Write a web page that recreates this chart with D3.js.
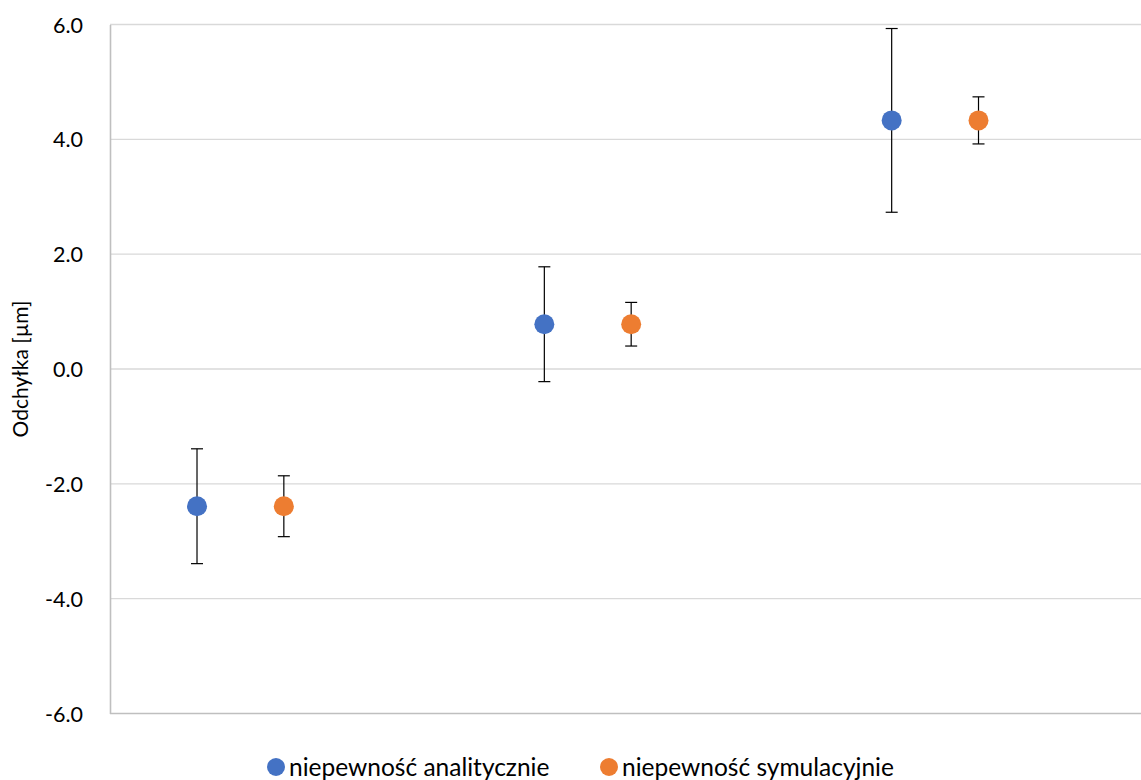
<!DOCTYPE html>
<html>
<head>
<meta charset="utf-8">
<script src="https://cdn.jsdelivr.net/npm/d3@7"></script>
<style>
  html, body { margin: 0; padding: 0; background: #fff; }
  svg { display: block; }
  text { font-family: Lato, "Open Sans", sans-serif; fill: #000; }
</style>
</head>
<body>
<svg id="chart" width="1141" height="780"></svg>
<script>
// Measurement groups (no x-axis labels are shown)
const groups = ["A", "B", "C"];
const seriesNames = ["niepewność analitycznie", "niepewność symulacyjnie"];
const seriesColors = ["#4472C4", "#ED7D31"];

// Deviation values [µm] per group, one array per series
const analyticValues = [-2.39, 0.78, 4.33];
const analyticErrors = [1.00, 1.00, 1.60];
const simulationValues = [-2.39, 0.78, 4.33];
const simulationErrors = [0.53, 0.38, 0.41];

const yTicks = [-6, -4, -2, 0, 2, 4, 6];
const yTitle = "Odchyłka [µm]";

const svg = d3.select("#chart");
const margin = { top: 24.5, right: 0, bottom: 66.5, left: 110 };
const W = 1141, H = 780;
const innerW = W - margin.left - margin.right;
const innerH = H - margin.top - margin.bottom;

const g = svg.append("g").attr("transform", `translate(${margin.left},${margin.top})`);

const y = d3.scaleLinear().domain([-6, 6]).range([innerH, 0]);
// category bands run slightly past the visible plot edge
const x = d3.scaleBand().domain(groups).range([0, 1042]).padding(0);
const xs = d3.scalePoint().domain(seriesNames).range([0, x.bandwidth()]).padding(1.5).align(0.334);

const fmt = v => d3.format(".1f")(v).replace("\u2212", "-");

// gridlines
g.append("g")
  .selectAll("line")
  .data(yTicks.filter(t => t !== -6))
  .join("line")
  .attr("x1", 0).attr("x2", innerW)
  .attr("y1", d => y(d)).attr("y2", d => y(d))
  .attr("stroke", "#D9D9D9").attr("stroke-width", 1.4);

// y axis
const yAxis = d3.axisLeft(y).tickValues(yTicks).tickFormat(fmt).tickSize(0).tickPadding(27);
const ya = g.append("g").call(yAxis);
ya.select(".domain").attr("stroke", "#BFBFBF").attr("stroke-width", 1.6);
ya.selectAll("text").style("font-size", "21.5px").attr("dy", "0.35em").style("font-family", "Lato, sans-serif");

// bottom axis line
g.append("line")
  .attr("x1", 0).attr("x2", innerW)
  .attr("y1", innerH).attr("y2", innerH)
  .attr("stroke", "#BFBFBF").attr("stroke-width", 1.6);

// y title
svg.append("text")
  .attr("transform", `translate(28,${margin.top + y(0)}) rotate(-90)`)
  .attr("text-anchor", "middle")
  .style("font-size", "21px")
  .text(yTitle);

const series = [
  { name: seriesNames[0], color: seriesColors[0], values: analyticValues, errors: analyticErrors },
  { name: seriesNames[1], color: seriesColors[1], values: simulationValues, errors: simulationErrors }
];

series.forEach(s => {
  const pts = groups.map((grp, i) => ({
    cx: x(grp) + xs(s.name),
    v: s.values[i],
    e: s.errors[i]
  }));
  const sg = g.append("g");
  const capW = 6;
  // error bars
  sg.selectAll("line.err").data(pts).join("line").attr("class", "err")
    .attr("x1", d => d.cx).attr("x2", d => d.cx)
    .attr("y1", d => y(d.v + d.e)).attr("y2", d => y(d.v - d.e))
    .attr("stroke", "#000").attr("stroke-width", 1.2);
  sg.selectAll("line.capT").data(pts).join("line").attr("class", "capT")
    .attr("x1", d => d.cx - capW).attr("x2", d => d.cx + capW)
    .attr("y1", d => y(d.v + d.e)).attr("y2", d => y(d.v + d.e))
    .attr("stroke", "#000").attr("stroke-width", 1.2);
  sg.selectAll("line.capB").data(pts).join("line").attr("class", "capB")
    .attr("x1", d => d.cx - capW).attr("x2", d => d.cx + capW)
    .attr("y1", d => y(d.v - d.e)).attr("y2", d => y(d.v - d.e))
    .attr("stroke", "#000").attr("stroke-width", 1.2);
  // markers
  sg.selectAll("circle").data(pts).join("circle")
    .attr("cx", d => d.cx).attr("cy", d => y(d.v)).attr("r", 10)
    .attr("fill", s.color);
});

// legend
const legend = svg.append("g").attr("transform", "translate(0,767)");
const legendX = [276, 609];
series.forEach((s, i) => {
  const lg = legend.append("g").attr("transform", `translate(${legendX[i]},0)`);
  lg.append("circle").attr("r", 9).attr("fill", s.color);
  lg.append("text").attr("x", 13).attr("dy", "0.35em").style("font-size", "24.5px").text(s.name);
});
</script>
</body>
</html>
